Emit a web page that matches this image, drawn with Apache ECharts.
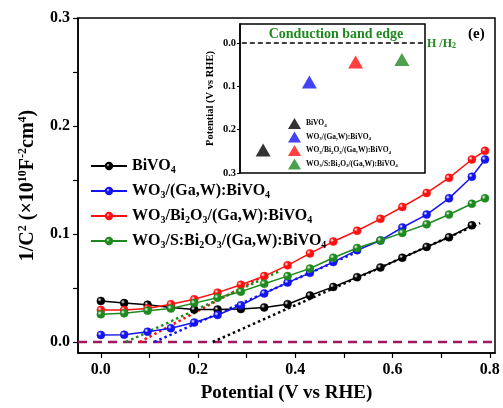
<!DOCTYPE html>
<html><head><meta charset="utf-8">
<script src="https://cdn.jsdelivr.net/npm/echarts@6/dist/echarts.min.js"></script>
<style>html,body{margin:0;padding:0;background:#fff}#c{width:503px;height:408px}</style>
</head><body><div id="c"></div>
<script>
// ---- data ----
const potential = [0, 0.048, 0.096, 0.144, 0.192, 0.24, 0.288, 0.336, 0.384, 0.43, 0.478, 0.527, 0.575, 0.62, 0.67, 0.716, 0.763, 0.79];
const bivo4     = [0.038, 0.036, 0.0345, 0.032, 0.030, 0.030, 0.0305, 0.032, 0.035, 0.043, 0.051, 0.060, 0.069, 0.078, 0.088, 0.097, 0.108];
const wo3Ga     = [0.0065, 0.0068, 0.0095, 0.0127, 0.018, 0.025, 0.034, 0.045, 0.055, 0.064, 0.074, 0.085, 0.094, 0.106, 0.118, 0.133, 0.153, 0.169];
const wo3Bi2o3  = [0.0296, 0.0296, 0.031, 0.035, 0.0395, 0.0457, 0.053, 0.061, 0.071, 0.082, 0.093, 0.103, 0.114, 0.125, 0.138, 0.152, 0.169, 0.177];
const wo3SBi2o3 = [0.0256, 0.0265, 0.029, 0.031, 0.036, 0.041, 0.0466, 0.054, 0.061, 0.068, 0.078, 0.087, 0.094, 0.101, 0.109, 0.118, 0.128, 0.133];
// linear fits (x-intercept to end) : [x, y] pairs
const fitBivo4     = [[0.23, 0], [0.78, 0.11]];
const fitWo3Ga     = [[0.11, 0], [0.53, 0.084]];
const fitWo3Bi2o3  = [[0.08, 0], [0.33, 0.06]];
const fitWo3SBi2o3 = [[0.052, 0], [0.37, 0.066]];
const zeroLine = [[-0.047, 0], [0.8106, 0]];
const xTicks = [0, 0.1, 0.2, 0.3, 0.4, 0.5, 0.6, 0.7, 0.8];
const xLabels = [0, 0.2, 0.4, 0.6, 0.8];
const yTicks = [0, 0.05, 0.1, 0.15, 0.2, 0.25, 0.3];
const yLabels = [0, 0.1, 0.2, 0.3];
// inset: conduction band edge
const insetPos = [0.5, 1.5, 2.5, 3.5];
const insetCB  = [0.247, 0.09, 0.044, 0.038];
const insetEdge = [[0.04, 0], [3.96, 0]];
const insetYLabels = [0, 0.1, 0.2, 0.3];

const names = ['BiVO4', 'WO3/(Ga,W):BiVO4', 'WO3/Bi2O3/(Ga,W):BiVO4', 'WO3/S:Bi2O3/(Ga,W):BiVO4'];
const richNames = [
  '{t|BiVO}{s|4}',
  '{t|WO}{s|3}{t|/(Ga,W):BiVO}{s|4}',
  '{t|WO}{s|3}{t|/Bi}{s|2}{t|O}{s|3}{t|/(Ga,W):BiVO}{s|4}',
  '{t|WO}{s|3}{t|/S:Bi}{s|2}{t|O}{s|3}{t|/(Ga,W):BiVO}{s|4}'
];
const colors = ['#000000', '#1414f0', '#ff1010', '#1f8a1f'];
const seriesVals = [bivo4, wo3Ga, wo3Bi2o3, wo3SBi2o3];
const fits = [fitBivo4, fitWo3Ga, fitWo3Bi2o3, fitWo3SBi2o3];
const insetNames = ['i0', 'i1', 'i2', 'i3'];

const FONT = '"Liberation Serif", "Times New Roman", serif';

function sphere(c) {
  return new echarts.graphic.RadialGradient(0.35, 0.35, 0.7, [
    {offset: 0, color: '#ffffff'}, {offset: 0.35, color: c}, {offset: 1, color: c}
  ]);
}

const series = [];
series.push({
  type: 'line', xAxisIndex: 0, yAxisIndex: 0, data: zeroLine, symbol: 'none', silent: true,
  lineStyle: {color: '#a01860', width: 2.5, type: [9, 6]}, z: 1
});
fits.forEach((f, i) => series.push({
  type: 'line', xAxisIndex: 0, yAxisIndex: 0, data: f, symbol: 'none', silent: true,
  lineStyle: {color: colors[i], width: 2.5, type: [2.5, 3]}, z: 2
}));
seriesVals.forEach((vals, i) => series.push({
  name: names[i], type: 'line', xAxisIndex: 0, yAxisIndex: 0,
  data: vals.map((v, k) => [potential[k], v]),
  symbol: 'circle', symbolSize: 8,
  itemStyle: {color: sphere(colors[i]), borderColor: colors[i], borderWidth: 0.5},
  lineStyle: {color: colors[i], width: 1.5}, z: 3
}));
// inset
series.push({
  type: 'line', xAxisIndex: 1, yAxisIndex: 1, data: insetEdge, symbol: 'none', silent: true,
  lineStyle: {color: '#000', width: 1.5, type: [5, 3]}, z: 10
});
insetNames.forEach((n, i) => series.push({
  name: n, type: 'scatter', xAxisIndex: 1, yAxisIndex: 1,
  data: [[insetPos[i], insetCB[i]]], symbol: 'triangle', symbolSize: [15, 13],
  itemStyle: {color: colors[i]}, z: 10
}));

const subRich = (fs, sfs, pad) => ({
  t: {fontSize: fs, fontWeight: 'bold', fontFamily: FONT, color: '#000'},
  s: {fontSize: sfs, fontWeight: 'bold', fontFamily: FONT, color: '#000', padding: [pad, 0, 0, 0]}
});

const option = {
  animation: false,
  backgroundColor: '#fff',
  grid: [
    {left: 78, top: 18, width: 417, height: 335, show: true, borderColor: '#000', borderWidth: 1.5, backgroundColor: 'transparent'},
    {left: 240, top: 24, width: 185, height: 149, show: true, borderColor: '#000', borderWidth: 1.5, backgroundColor: '#fff', z: 5}
  ],
  xAxis: [
    {type: 'value', gridIndex: 0, min: -0.047, max: 0.8106,
     name: 'Potential (V vs RHE)', nameLocation: 'middle', nameGap: 31,
     nameTextStyle: {fontSize: 19, fontWeight: 'bold', fontFamily: FONT, color: '#000'},
     axisLine: {onZero: false, lineStyle: {color: '#000', width: 1.5}},
     axisTick: {customValues: xTicks, length: 5, lineStyle: {color: '#000', width: 1.2}},
     axisLabel: {customValues: xLabels, formatter: v => v.toFixed(1), fontSize: 16, fontWeight: 'bold', fontFamily: FONT, color: '#000', margin: 9},
     splitLine: {show: false}},
    {type: 'value', gridIndex: 1, min: 0, max: 4, show: false, z: 6}
  ],
  yAxis: [
    {type: 'value', gridIndex: 0, min: -0.0102, max: 0.3,
     name: '{t|1/C}{p|2}{t| (×10}{p|10}{t|F}{p|-2}{t|cm}{p|4}{t|)}', nameLocation: 'middle', nameGap: 39, nameRotate: 90,
     nameTextStyle: {rich: {
       t: {fontSize: 20, fontWeight: 'bold', fontFamily: FONT, color: '#000'},
       p: {fontSize: 12, fontWeight: 'bold', fontFamily: FONT, color: '#000', padding: [0, 0, 10, 0]}
     }},
     axisLine: {onZero: false, lineStyle: {color: '#000', width: 1.5}},
     axisTick: {customValues: yTicks, length: 5, lineStyle: {color: '#000', width: 1.2}},
     axisLabel: {customValues: yLabels, formatter: v => v.toFixed(1), fontSize: 16, fontWeight: 'bold', fontFamily: FONT, color: '#000', margin: 8},
     splitLine: {show: false}},
    {type: 'value', gridIndex: 1, min: -0.044, max: 0.3, inverse: true, z: 6,
     name: 'Potential (V vs RHE)', nameLocation: 'middle', nameGap: 24, nameRotate: 90,
     nameTextStyle: {fontSize: 10.5, fontWeight: 'bold', fontFamily: FONT, color: '#000'},
     axisLine: {onZero: false, lineStyle: {color: '#000', width: 1.5}},
     axisTick: {customValues: insetYLabels, length: 3, lineStyle: {color: '#000'}},
     axisLabel: {customValues: insetYLabels, formatter: v => v.toFixed(1), fontSize: 10.5, fontWeight: 'bold', fontFamily: FONT, color: '#000', margin: 4},
     splitLine: {show: false}}
  ],
  legend: [
    {data: names, left: 85, top: 153, orient: 'vertical', itemWidth: 36, itemHeight: 8, itemGap: 8,
     formatter: n => richNames[names.indexOf(n)],
     textStyle: {rich: subRich(16, 10, 8)}},
    {data: insetNames, left: 283, top: 113, orient: 'vertical', itemWidth: 13, itemHeight: 11, itemGap: 2.5, z: 7,
     icon: 'triangle',
     formatter: n => richNames[insetNames.indexOf(n)],
     textStyle: {rich: subRich(7.5, 5, 4)}}
  ],
  title: [
    {text: 'Conduction band edge', left: 336, top: 27, padding: 0, textAlign: 'center', z: 7,
     textStyle: {fontSize: 14, fontWeight: 'bold', fontFamily: FONT, color: '#1f8a1f'}},
    {text: '{t|H /H}{s|2}', left: 427, top: 37, padding: 0,
     textStyle: {rich: {
       t: {fontSize: 12, fontWeight: 'bold', fontFamily: FONT, color: '#1f8a1f'},
       s: {fontSize: 8, fontWeight: 'bold', fontFamily: FONT, color: '#1f8a1f', padding: [5, 0, 0, 0]}
     }}},
    {text: '(e)', left: 468, top: 27, padding: 0,
     textStyle: {fontSize: 15, fontWeight: 'bold', fontFamily: FONT, color: '#000'}}
  ],
  series: series
};
echarts.init(document.getElementById('c'), null, {renderer: 'canvas'}).setOption(option);
</script></body></html>
